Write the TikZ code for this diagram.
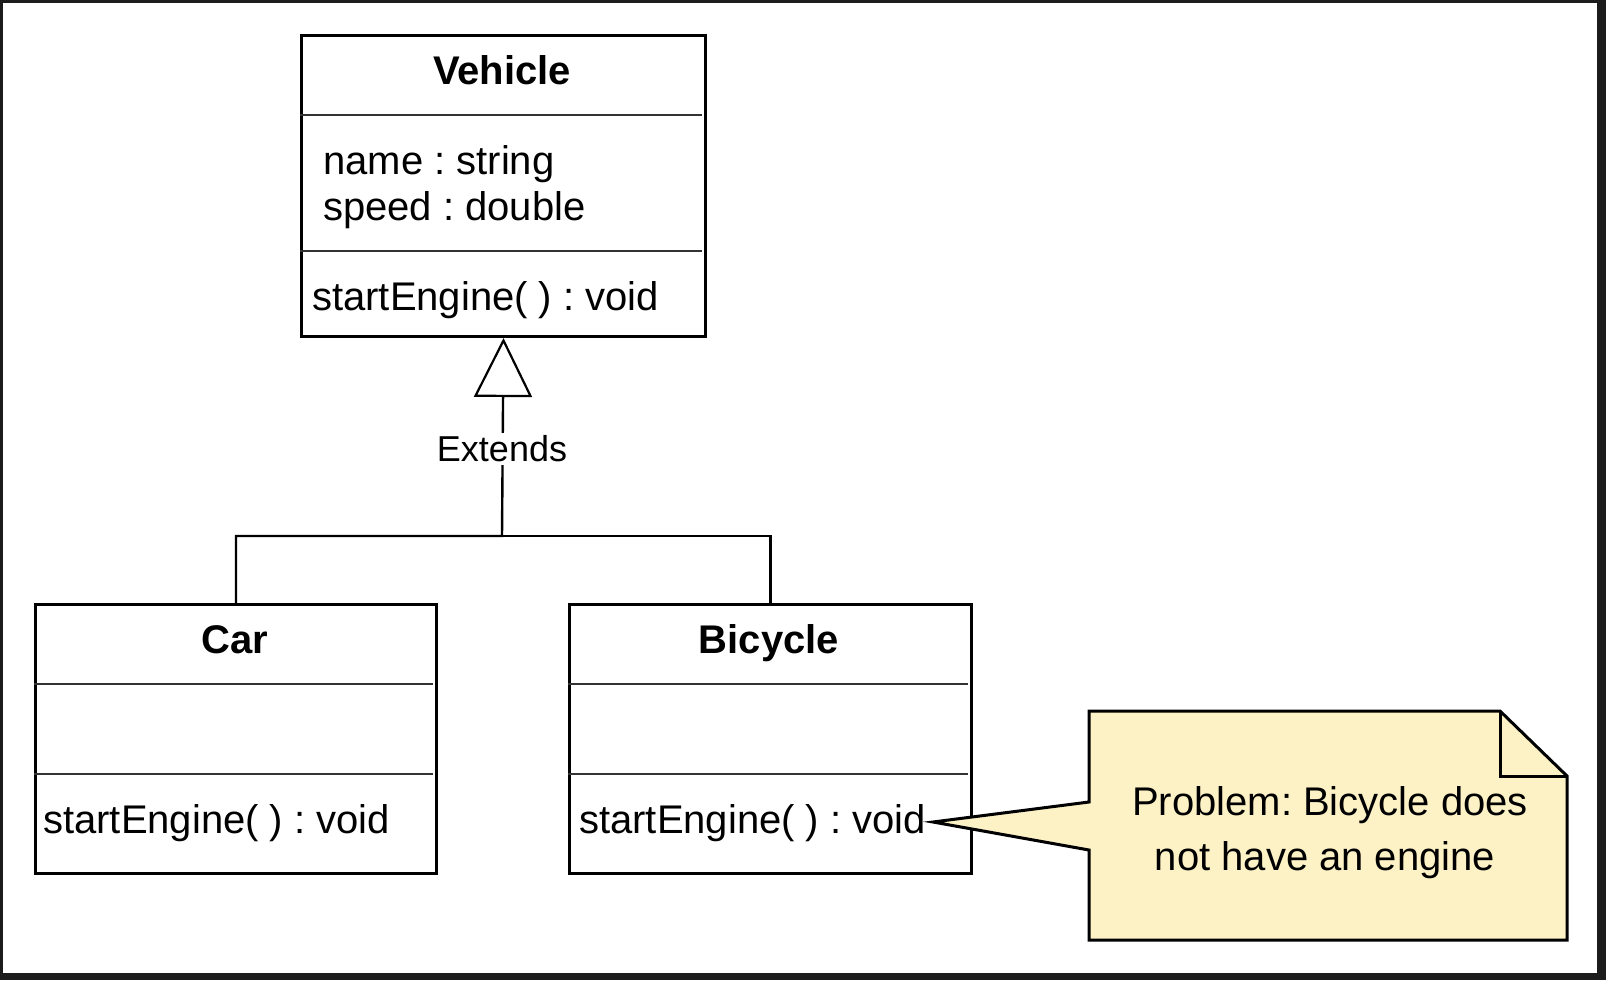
\documentclass[tikz,border=0pt]{standalone}
\usepackage{fontspec}
\setmainfont{Liberation Sans}
\usetikzlibrary{arrows.meta}
\definecolor{notefill}{RGB}{253,242,197}
\definecolor{framedark}{RGB}{28,28,28}
\frenchspacing
\begin{document}
\begin{tikzpicture}[x=1pt,y=-1pt,
  classbox/.style={draw, line width=3pt, minimum width=#1, minimum height=0pt, inner sep=0pt, anchor=north west},
  divider/.style={line width=2.4pt, draw=black!80},
  ctext/.style={font=\fontsize{40}{48}\selectfont, inner sep=0pt},
  ttext/.style={font=\fontsize{40}{48}\selectfont\bfseries, inner sep=0pt},
  conn/.style={line width=2.4pt},
  lbl/.style={font=\fontsize{36}{42}\selectfont, fill=white, inner sep=3pt},
  notetext/.style={font=\fontsize{40}{48}\selectfont, inner sep=0pt, anchor=base}
]
\useasboundingbox (0,0) rectangle (1606,980);
\fill[framedark] (0,0) rectangle (1606,980);
\fill[white] (2.7,2.7) rectangle (1597,973);

% Vehicle
\node[classbox=404pt, minimum height=301pt] (veh) at (300,34) {};
\draw[divider] (300,115) -- (702,115);
\draw[divider] (300,251) -- (702,251);
\node[ttext, anchor=base] (vehT) at (502,84) {Vehicle};
\node[ctext, anchor=base west] (vehA1) at (323,174) {name : string};
\node[ctext, anchor=base west] (vehA2) at (323,220) {speed : double};
\node[ctext, anchor=base west] (vehM) at (312,310) {startEngine( ) : void};

% Car
\node[classbox=401pt, minimum height=269pt] (car) at (34,603) {};
\draw[divider] (34,684) -- (433,684);
\draw[divider] (34,774) -- (433,774);
\node[ttext, anchor=base] (carT) at (234.5,653) {Car};
\node[ctext, anchor=base west] (carM) at (43,833) {startEngine( ) : void};

% Bicycle
\node[classbox=402pt, minimum height=269pt] (bic) at (568,603) {};
\draw[divider] (568,684) -- (968,684);
\draw[divider] (568,774) -- (968,774);
\node[ttext, anchor=base] (bicT) at (769,653) {Bicycle};
\node[ctext, anchor=base west] (bicM) at (579,833) {startEngine( ) : void};

% Inheritance connector
\coordinate (j) at (502,536);
\draw[conn] (bic.north) |- (j);
\draw[conn, -{Triangle[open, length=59pt, width=58pt, line width=2.2pt]}] (car.north) |- (j) -- (veh.south);
\node[lbl] (ext) at (502,449) {Extends};

% Note
\coordinate (tip) at (933,822);
\draw[line width=3pt, fill=notefill, line join=miter]
  (1089,711) -- (1500,711) -- (1567,776) -- (1567,940) -- (1089,940) -- (1089,850)
  -- (tip) -- (1089,802) -- cycle;
\draw[line width=3pt] (1500,711) -- (1500,776) -- (1567,776);
\node[notetext] (note1) at (1330,815) {Problem: Bicycle does};
\node[notetext] (note2) at (1325,870) {not have an engine};
\end{tikzpicture}
\end{document}
